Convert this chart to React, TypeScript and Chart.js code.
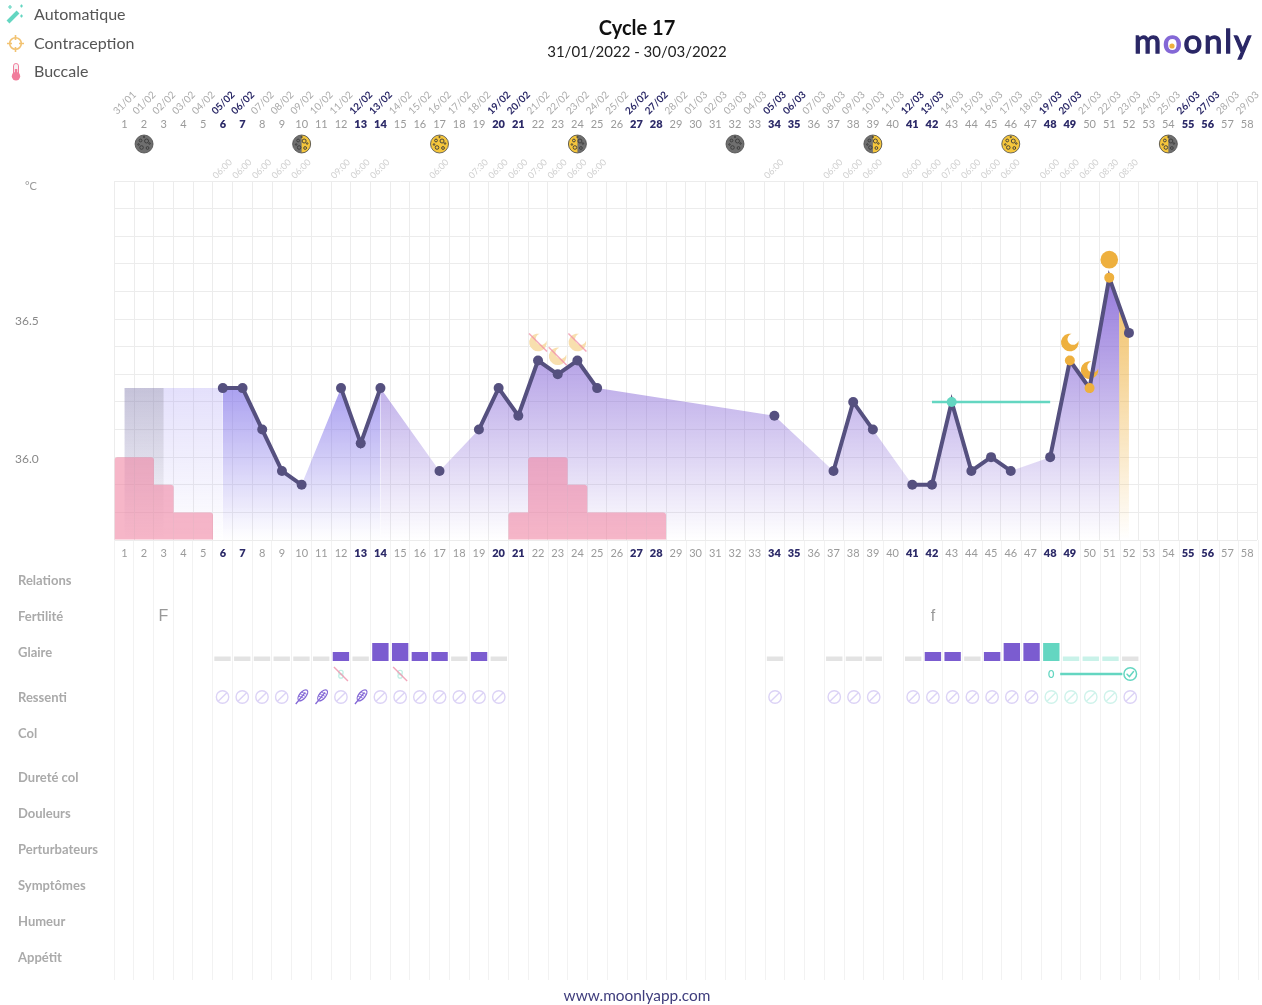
import React, { useEffect, useRef } from "react";
import { Chart, registerables } from "chart.js";

Chart.register(...registerables);

const FONT = "Lato, 'Noto Sans', sans-serif";

const dayLabels = ["1","2","3","4","5","6","7","8","9","10","11","12","13","14","15","16","17","18","19","20","21","22","23","24","25","26","27","28","29","30","31","32","33","34","35","36","37","38","39","40","41","42","43","44","45","46","47","48","49","50","51","52","53","54","55","56","57","58"];
const dateLabels = ["31/01","01/02","02/02","03/02","04/02","05/02","06/02","07/02","08/02","09/02","10/02","11/02","12/02","13/02","14/02","15/02","16/02","17/02","18/02","19/02","20/02","21/02","22/02","23/02","24/02","25/02","26/02","27/02","28/02","01/03","02/03","03/03","04/03","05/03","06/03","07/03","08/03","09/03","10/03","11/03","12/03","13/03","14/03","15/03","16/03","17/03","18/03","19/03","20/03","21/03","22/03","23/03","24/03","25/03","26/03","27/03","28/03","29/03"];
const weekendDays = [6,7,13,14,20,21,27,28,34,35,41,42,48,49,55,56];

const tempDays = [6,7,8,9,10,12,13,14,17,19,20,21,22,23,24,25,34,37,38,39,41,42,43,44,45,46,48,49,50,51,52];
const tempValues = [36.25,36.25,36.1,35.95,35.9,36.25,36.05,36.25,35.95,36.1,36.25,36.15,36.35,36.3,36.35,36.25,36.15,35.95,36.2,36.1,35.9,35.9,36.2,35.95,36.0,35.95,36.0,36.35,36.25,36.65,36.45];
const tempHours = ["06:00","06:00","06:00","06:00","06:00","09:00","06:00","06:00","06:00","07:30","06:00","06:00","07:00","06:00","06:00","06:00","06:00","06:00","06:00","06:00","06:00","06:00","07:00","06:00","06:00","06:00","06:00","06:00","06:00","08:30","08:30"];
const orangePointDays = [49,50,51];
const tealPointDays = [43];

const periodDays = [1,2,3,4,5,21,22,23,24,25,26,27,28];
const periodValues = [36.0,36.0,35.9,35.8,35.8,35.8,36.0,36.0,35.9,35.8,35.8,35.8,35.8];

const coverlineDays = [42,48];
const coverlineValue = 36.2;

const moonDays = [2,10,17,24,32,39,46,54];
const moonPhases = ["new","first","full","last","new","first","full","last"];
const crescentDays = [49,50];
const fadedCrescentDays = [22,23,24];
const sunDays = [51];

const rowLabels = ["Relations","Fertilité","Glaire","Ressenti","Col","Dureté col","Douleurs","Perturbateurs","Symptômes","Humeur","Appétit"];
const rowPositions = [0,1,2,3.25,4.25,5.47,6.47,7.47,8.47,9.47,10.47];

const fertilityDays = [3,42];
const fertilityLetters = ["F","f"];

const glaireDays = [6,7,8,9,10,11,12,13,14,15,16,17,18,19,20,34,37,38,39,41,42,43,44,45,46,47,48,49,50,51,52];
const glaireLevels = [1,1,1,1,1,1,2,1,4,4,2,2,1,2,1,1,1,1,1,1,2,2,1,2,4,4,4,1,1,1,1];
const glaireTealDays = [48];
const glairePaleTealDays = [49,50,51];

const featherDays = [10,11,13];
const noFeelDays = [6,7,8,9,12,14,15,16,17,18,19,20,34,37,38,39,41,42,43,44,45,46,47,52];
const paleNoFeelDays = [48,49,50,51];
const crossedDropDays = [12,15];
const peakCountDays = [48.45,51.6];
const peakCountEndDay = 52;
const peakCountLabelDay = 48;
const peakCountLabel = "0";

const dayIndex = (d) => d - 1;
const tempsByDay = dayLabels.map((_, i) => {
  const k = tempDays.indexOf(i + 1);
  return k >= 0 ? tempValues[k] : null;
});
const hoursByDay = dayLabels.map((_, i) => {
  const k = tempDays.indexOf(i + 1);
  return k >= 0 ? tempHours[k] : "";
});
const periodByDay = dayLabels.map((_, i) => {
  const k = periodDays.indexOf(i + 1);
  return k >= 0 ? periodValues[k] : null;
});
const temp = (d) => tempValues[tempDays.indexOf(d)];
const tempPts = (a, b) => tempDays.filter((d) => d >= a && d <= b).map((d) => ({ x: d, y: temp(d) }));

const GLAIRE_BASE = 2.25;
const GLAIRE_UNIT = 0.125;
const COUNT_ROW = 2.61;
const RESSENTI_ROW = 3.25;
const FERT_ROW = 1.03;
const MARKER_OFFSET = 18;

const vGrad = (colorTop, colorBottom, topVal) => (ctx) => {
  const { chart } = ctx;
  if (!chart.chartArea) return colorTop;
  const y0 = chart.scales.y.getPixelForValue(topVal);
  const g = chart.ctx.createLinearGradient(0, y0, 0, chart.chartArea.bottom);
  g.addColorStop(0, colorTop);
  g.addColorStop(1, colorBottom);
  return g;
};

function drawMoon(c, x, y, phase) {
  const r = 9;
  const gray = "#6f6f6f", yellow = "#f5c63c";
  c.save();
  c.beginPath(); c.arc(x, y, r, 0, Math.PI * 2); c.fillStyle = phase === "full" ? yellow : gray; c.fill();
  if (phase === "first" || phase === "last") {
    c.beginPath();
    if (phase === "first") c.ellipse(x, y, r, r, 0, -Math.PI / 2, Math.PI / 2);
    else c.ellipse(x, y, r, r, 0, Math.PI / 2, Math.PI * 1.5);
    c.closePath(); c.fillStyle = yellow; c.fill();
  }
  c.beginPath(); c.arc(x, y, r, 0, Math.PI * 2); c.strokeStyle = "#4a4a4a"; c.lineWidth = 0.8; c.stroke();
  c.strokeStyle = "#3a3a3a"; c.lineWidth = 0.9;
  [[-3.5,-3.5,1.4],[2.5,-3,2],[-2.5,3.5,1.8],[3.5,4,1.4],[0,-7,0.7],[-5.5,0.5,0.8],[5.5,-0.5,0.8]].forEach(([a,b,rc]) => {
    c.beginPath(); c.arc(x + a, y + b, rc, 0, Math.PI * 2); c.stroke();
  });
  c.restore();
}

function crescentPath(c, x, y, r1, r2, d, theta) {
  const a = Math.acos((d * d + r1 * r1 - r2 * r2) / (2 * d * r1));
  const cx2 = x + d * Math.cos(theta), cy2 = y + d * Math.sin(theta);
  const p1x = x + r1 * Math.cos(theta - a), p1y = y + r1 * Math.sin(theta - a);
  const p2x = x + r1 * Math.cos(theta + a), p2y = y + r1 * Math.sin(theta + a);
  c.beginPath();
  c.arc(x, y, r1, theta + a, theta - a + Math.PI * 2, false);
  c.arc(cx2, cy2, r2, Math.atan2(p1y - cy2, p1x - cx2), Math.atan2(p2y - cy2, p2x - cx2), true);
  c.closePath();
}

function drawCrescent(c, x, y, color) {
  c.save();
  crescentPath(c, x, y, 8.8, 5.6, 4.6, -Math.PI / 4);
  c.fillStyle = color; c.fill();
  c.restore();
}

function drawNoSign(c, x, y, color) {
  const r = 6.2;
  c.save();
  c.strokeStyle = color; c.lineWidth = 1.4;
  c.beginPath(); c.arc(x, y, r, 0, Math.PI * 2); c.stroke();
  c.beginPath(); c.moveTo(x - r * 0.7, y + r * 0.7); c.lineTo(x + r * 0.7, y - r * 0.7); c.stroke();
  c.restore();
}

function drawFeather(c, x, y, color) {
  c.save();
  c.translate(x, y); c.rotate(-Math.PI / 4 - 0.1);
  c.strokeStyle = color; c.lineWidth = 1.3;
  c.beginPath(); c.ellipse(2.2, 0, 6.6, 3.2, 0, 0, Math.PI * 2); c.stroke();
  c.beginPath(); c.moveTo(-9, 0); c.lineTo(6, 0); c.stroke();
  c.lineWidth = 0.8;
  [-1, 1.5, 4].forEach((a) => { c.beginPath(); c.moveTo(a, -2.5); c.lineTo(a + 1.5, 2.5); c.stroke(); });
  c.restore();
}

function drawCheck(c, x, y, color) {
  c.save();
  c.strokeStyle = color; c.lineWidth = 1.5; c.lineCap = "round";
  c.beginPath(); c.arc(x, y, 6.3, 0, Math.PI * 2); c.stroke();
  c.beginPath(); c.moveTo(x - 3.2, y + 0.2); c.lineTo(x - 0.8, y + 2.6); c.lineTo(x + 3.3, y - 2.4); c.stroke();
  c.restore();
}

function drawCrossedDrop(c, x, y) {
  c.save();
  c.strokeStyle = "#bfeee4"; c.lineWidth = 1.2;
  c.beginPath(); c.arc(x, y - 1.5, 2.2, 0, Math.PI * 2); c.stroke();
  c.beginPath(); c.arc(x, y + 2, 2.2, 0, Math.PI * 2); c.stroke();
  c.strokeStyle = "rgba(240,150,175,0.85)"; c.lineWidth = 1.4;
  c.beginPath(); c.moveTo(x - 7, y - 7); c.lineTo(x + 7, y + 7); c.stroke();
  c.restore();
}

const topPlugin = {
  id: "topGlyphs",
  afterDraw(chart) {
    const c = chart.ctx, xs = chart.scales.x;
    const moonY = chart.scales.xDay.bottom - 10;
    moonDays.forEach((d, i) => drawMoon(c, xs.getPixelForValue(dayIndex(d)), moonY, moonPhases[i]));
  },
  beforeDatasetDraw(chart, args) {
    if (chart.data.datasets[args.index].label !== "Température") return;
    const c = chart.ctx, xs = chart.scales.x, ys = chart.scales.y;
    const px = (d) => xs.getPixelForValue(dayIndex(d));
    const py = (d) => ys.getPixelForValue(temp(d)) - MARKER_OFFSET;
    crescentDays.forEach((d) => drawCrescent(c, px(d), py(d), "#eeb03e"));
    fadedCrescentDays.forEach((d) => {
      drawCrescent(c, px(d), py(d), "#f8dfae");
      c.save();
      c.strokeStyle = "rgba(240,140,165,0.75)"; c.lineWidth = 1.5;
      c.beginPath(); c.moveTo(px(d) - 9, py(d) - 9); c.lineTo(px(d) + 9, py(d) + 9); c.stroke();
      c.restore();
    });
    sunDays.forEach((d) => {
      c.save();
      c.fillStyle = "#eeb03e";
      c.beginPath(); c.arc(px(d), py(d), 8.8, 0, Math.PI * 2); c.fill();
      c.restore();
    });
  },
};

const bottomPlugin = {
  id: "rowGlyphs",
  afterDatasetsDraw(chart) {
    const c = chart.ctx, xs = chart.scales.x, ys = chart.scales.y;
    const px = (d) => xs.getPixelForValue(dayIndex(d));
    noFeelDays.forEach((d) => drawNoSign(c, px(d), ys.getPixelForValue(RESSENTI_ROW), "#dcd3f6"));
    paleNoFeelDays.forEach((d) => drawNoSign(c, px(d), ys.getPixelForValue(RESSENTI_ROW), "#cff3eb"));
    featherDays.forEach((d) => drawFeather(c, px(d), ys.getPixelForValue(RESSENTI_ROW), "#8468d6"));
    crossedDropDays.forEach((d) => drawCrossedDrop(c, px(d), ys.getPixelForValue(COUNT_ROW)));
    drawCheck(c, px(peakCountEndDay), ys.getPixelForValue(COUNT_ROW), "#64d6c1");
    c.save();
    c.textAlign = "center"; c.textBaseline = "middle";
    c.fillStyle = "#64d6c1"; c.font = `600 11px ${FONT}`;
    c.fillText(peakCountLabel, px(peakCountLabelDay), ys.getPixelForValue(COUNT_ROW));
    c.fillStyle = "#999999"; c.font = `16px 'Liberation Sans', sans-serif`;
    fertilityDays.forEach((d, i) => c.fillText(fertilityLetters[i], px(d), ys.getPixelForValue(FERT_ROW)));
    c.restore();
  },
};

const flatAxis = (labels, height, padding, labelOffset, rotation, size, colorFn, weightFn, weight) => ({
  type: "category",
  axis: "x",
  position: "top",
  offset: true,
  weight,
  labels,
  grid: { display: false, drawTicks: false },
  border: { display: false },
  afterFit: (s) => { s.height = height; s.paddingLeft = 0; s.paddingRight = 0; },
  ticks: {
    autoSkip: false,
    minRotation: rotation,
    maxRotation: rotation,
    padding,
    labelOffset,
    color: colorFn,
    font: (ctx) => ({ family: FONT, size, weight: weightFn(ctx) }),
  },
});

const isWeekend = (ctx) => weekendDays.includes(ctx.index + 1);

export default function App() {
  const topRef = useRef(null);
  const bottomRef = useRef(null);

  useEffect(() => {
    const top = new Chart(topRef.current, {
      type: "bar",
      plugins: [topPlugin],
      data: {
        labels: dayLabels,
        datasets: [
          {
            type: "line", label: "Température", xAxisID: "x", yAxisID: "y", order: 1,
            data: tempsByDay, spanGaps: false, tension: 0,
            borderColor: "#55507f", borderWidth: 4,
            pointRadius: 5, pointBorderWidth: 0,
            pointBackgroundColor: (ctx) => {
              const d = ctx.dataIndex + 1;
              if (orangePointDays.includes(d)) return "#eeb03e";
              if (tealPointDays.includes(d)) return "#64d6c1";
              return "#55507f";
            },
          },
          {
            type: "line", label: "Ligne", xAxisID: "xl", yAxisID: "y", order: 2,
            data: coverlineDays.map((d) => ({ x: d, y: coverlineValue })),
            borderColor: "#64d6c1", borderWidth: 2.5, pointRadius: 0,
          },
          {
            type: "bar", label: "Règles", xAxisID: "x", yAxisID: "y", order: 3,
            data: periodByDay, base: 35.7, grouped: false,
            barPercentage: 1, categoryPercentage: 1, inflateAmount: 0,
            backgroundColor: "rgba(240,130,160,0.58)", borderWidth: 0, borderSkipped: false,
            borderRadius: (ctx) => {
              const v = periodByDay[ctx.dataIndex] ?? 0;
              const prev = periodByDay[ctx.dataIndex - 1] ?? 0;
              const next = periodByDay[ctx.dataIndex + 1] ?? 0;
              return { topLeft: prev < v ? 3 : 0, topRight: next < v ? 3 : 0, bottomLeft: 0, bottomRight: 0 };
            },
          },
          {
            type: "line", label: "Gris", xAxisID: "xl", yAxisID: "y", order: 4, pointRadius: 0, borderWidth: 0, fill: "start",
            data: [1, 3].map((d) => ({ x: d, y: temp(6) })),
            backgroundColor: vGrad("rgba(120,120,130,0.28)", "rgba(120,120,130,0)", 36.25),
          },
          {
            type: "line", label: "Lavande", xAxisID: "xl", yAxisID: "y", order: 5, pointRadius: 0, borderWidth: 0, fill: "start",
            data: [1, 6].map((d) => ({ x: d, y: temp(6) })),
            backgroundColor: vGrad("rgba(150,135,240,0.26)", "rgba(150,135,240,0)", 36.25),
          },
          {
            type: "line", label: "Bleu", xAxisID: "xl", yAxisID: "y", order: 5, pointRadius: 0, borderWidth: 0, fill: "start", spanGaps: true,
            data: tempPts(6, 14),
            backgroundColor: vGrad("rgba(125,110,232,0.65)", "rgba(125,110,232,0)", 36.25),
          },
          {
            type: "line", label: "Violet", xAxisID: "xl", yAxisID: "y", order: 5, pointRadius: 0, borderWidth: 0, fill: "start", spanGaps: true,
            data: [...tempPts(14, 51), { x: 51.5, y: 36.55 }],
            backgroundColor: vGrad("rgba(120,85,210,0.78)", "rgba(120,85,210,0)", 36.65),
          },
          {
            type: "line", label: "Orange", xAxisID: "xl", yAxisID: "y", order: 5, pointRadius: 0, borderWidth: 0, fill: "start",
            data: [{ x: 51.5, y: 36.55 }, { x: 52, y: temp(52) }],
            backgroundColor: vGrad("rgba(238,176,62,0.75)", "rgba(238,176,62,0)", 36.55),
          },
        ],
      },
      options: {
        responsive: false, animation: false,
        layout: { padding: { left: 15, right: 2, top: 90, bottom: 0 } },
        plugins: { legend: { display: false }, tooltip: { enabled: false } },
        scales: {
          x: {
            type: "category", position: "bottom", offset: true,
            grid: { color: "#ececec", offset: true, drawTicks: false },
            border: { display: false },
            afterFit: (s) => { s.height = 30; s.paddingLeft = 0; s.paddingRight = 0; },
            ticks: {
              autoSkip: false, maxRotation: 0, padding: 7,
              color: (ctx) => (isWeekend(ctx) ? "#2c2a68" : "#9a9a9a"),
              font: (ctx) => ({ family: FONT, size: 11, weight: isWeekend(ctx) ? "800" : "400" }),
            },
          },
          xl: { type: "linear", axis: "x", display: false, min: 0.5, max: 58.5, offset: false },
          xHour: flatAxis(hoursByDay, 27, 0, -1, 45, 9, () => "#cfcfcf", () => "400", 1),
          xDay: flatAxis(dayLabels, 36, 23, 0, 0, 11, (ctx) => (isWeekend(ctx) ? "#2c2a68" : "#9a9a9a"), (ctx) => (isWeekend(ctx) ? "800" : "400"), 2),
          xDate: flatAxis(dateLabels, 28, 1, -1, 45, 10, (ctx) => (isWeekend(ctx) ? "#2c2a68" : "#aaaaaa"), (ctx) => (isWeekend(ctx) ? "700" : "400"), 3),
          y: {
            type: "linear", min: 35.7, max: 37,
            grid: { color: "#ececec", drawTicks: false },
            border: { display: false },
            afterFit: (s) => { s.width = 99.5; s.paddingTop = 0; s.paddingBottom = 0; },
            ticks: {
              stepSize: 0.1, crossAlign: "far", labelOffset: 2, color: "#888888",
              font: { family: FONT, size: 12 },
              callback: (v) => {
                const t = Number(v).toFixed(1);
                return t === "36.0" || t === "36.5" ? t : "";
              },
            },
          },
        },
      },
    });

    const bottom = new Chart(bottomRef.current, {
      type: "bar",
      plugins: [bottomPlugin],
      data: {
        labels: dayLabels,
        datasets: [
          {
            type: "bar", label: "Glaire", xAxisID: "x", yAxisID: "y", grouped: false,
            data: dayLabels.map((_, i) => {
              const k = glaireDays.indexOf(i + 1);
              return k >= 0 ? [GLAIRE_BASE, GLAIRE_BASE - glaireLevels[k] * GLAIRE_UNIT] : null;
            }),
            barPercentage: 0.83, categoryPercentage: 1, borderWidth: 0,
            backgroundColor: (ctx) => {
              const d = ctx.dataIndex + 1;
              if (glaireTealDays.includes(d)) return "#64d6c1";
              if (glairePaleTealDays.includes(d)) return "#c9f2e9";
              const k = glaireDays.indexOf(d);
              return glaireLevels[k] > 1 ? "#7b5cd0" : "#e3e3e3";
            },
          },
          {
            type: "line", label: "Compte", xAxisID: "xl", yAxisID: "y",
            data: peakCountDays.map((d) => ({ x: d, y: COUNT_ROW })),
            borderColor: "#64d6c1", borderWidth: 2.5, pointRadius: 0,
          },
        ],
      },
      options: {
        responsive: false, animation: false,
        layout: { padding: { left: 18, right: 3.5, top: 0, bottom: 25 } },
        plugins: { legend: { display: false }, tooltip: { enabled: false } },
        scales: {
          x: {
            type: "category", position: "bottom", offset: true,
            grid: { color: "#f2f2f2", offset: true, drawTicks: false },
            border: { display: false },
            ticks: { display: false },
            afterFit: (s) => { s.height = 0; s.paddingLeft = 0; s.paddingRight = 0; },
          },
          xl: { type: "linear", axis: "x", display: false, min: 0.5, max: 58.5, offset: false },
          y: {
            type: "linear", reverse: true, min: -1.111, max: 11.111,
            grid: { display: false, drawTicks: false },
            border: { display: false },
            afterFit: (s) => { s.width = 96; s.paddingTop = 0; s.paddingBottom = 0; },
            afterBuildTicks: (s) => { s.ticks = rowPositions.map((value) => ({ value })); },
            ticks: {
              autoSkip: false, crossAlign: "far", color: "#aaaaaa", labelOffset: 1,
              font: { family: FONT, size: 13, weight: "700" },
              callback: (v) => rowLabels[rowPositions.indexOf(Number(v))] ?? "",
            },
          },
        },
      },
    });

    return () => { top.destroy(); bottom.destroy(); };
  }, []);

  const text = (style) => ({ position: "absolute", fontFamily: FONT, whiteSpace: "nowrap", ...style });

  return (
    <div style={{ position: "absolute", left: 0, top: 0, width: 1262, height: 1005, overflow: "hidden", background: "#fff" }}>
      <canvas ref={bottomRef} width={1262} height={465} style={{ position: "absolute", left: 0, top: 540, display: "block" }} />
      <canvas ref={topRef} width={1262} height={570} style={{ position: "absolute", left: 0, top: 0, display: "block" }} />

      <svg width={30} height={84} style={{ position: "absolute", left: 0, top: 0 }}>
        <line x1={8} y1={22} x2={18} y2={12} stroke="#64d6c1" strokeWidth={4} />
        <g stroke="#64d6c1" strokeWidth={1.2}>
          <path d="M8 7h4M10 5v4M20 6h3M21.5 4.5v3M20 16h3M21.5 14.5v3" />
        </g>
        <circle cx={15.5} cy={43.5} r={5.8} fill="none" stroke="#f2c271" strokeWidth={1.6} />
        <path d="M15.5 35v5M15.5 47v5M7 43.5h5M19 43.5h5" stroke="#f2c271" strokeWidth={1.6} />
        <rect x={13.5} y={63.5} width={5} height={12} rx={2.4} fill="#f6f0f2" stroke="#f17d9c" strokeWidth={1} />
        <rect x={14.8} y={69} width={2.5} height={6} fill="#f17d9c" />
        <circle cx={16} cy={76.3} r={4.2} fill="#f17d9c" />
      </svg>
      <div style={text({ left: 34, top: 4, fontSize: 16, color: "#555" })}>Automatique</div>
      <div style={text({ left: 34, top: 33, fontSize: 16, color: "#555" })}>Contraception</div>
      <div style={text({ left: 34, top: 61, fontSize: 16, color: "#555" })}>Buccale</div>

      <div style={text({ left: 0, width: 1274, top: 15, textAlign: "center", fontSize: 20, fontWeight: 700, color: "#111" })}>Cycle 17</div>
      <div style={text({ left: 0, width: 1274, top: 42, textAlign: "center", fontSize: 15, color: "#222" })}>31/01/2022 - 30/03/2022</div>

      <div style={text({ left: 25, top: 179, fontSize: 11, color: "#999" })}>°C</div>

      <svg width={142} height={55} style={{ position: "absolute", left: 1120, top: 20 }}>
        <text x={14} y={33} fontFamily={FONT} fontSize={33} fontWeight={400} fill="#2a2766" stroke="#2a2766" strokeWidth={1.3} textLength={117} lengthAdjust="spacing">
          m<tspan fill="#8468d6" stroke="#8468d6">o</tspan>only
        </text>
        <circle cx={52} cy={26} r={2.6} fill="#eeb03e" />
      </svg>

      <div style={text({ left: 0, width: 1274, top: 986, textAlign: "center", fontSize: 15.4, color: "#3f3d7d" })}>www.moonlyapp.com</div>
    </div>
  );
}
